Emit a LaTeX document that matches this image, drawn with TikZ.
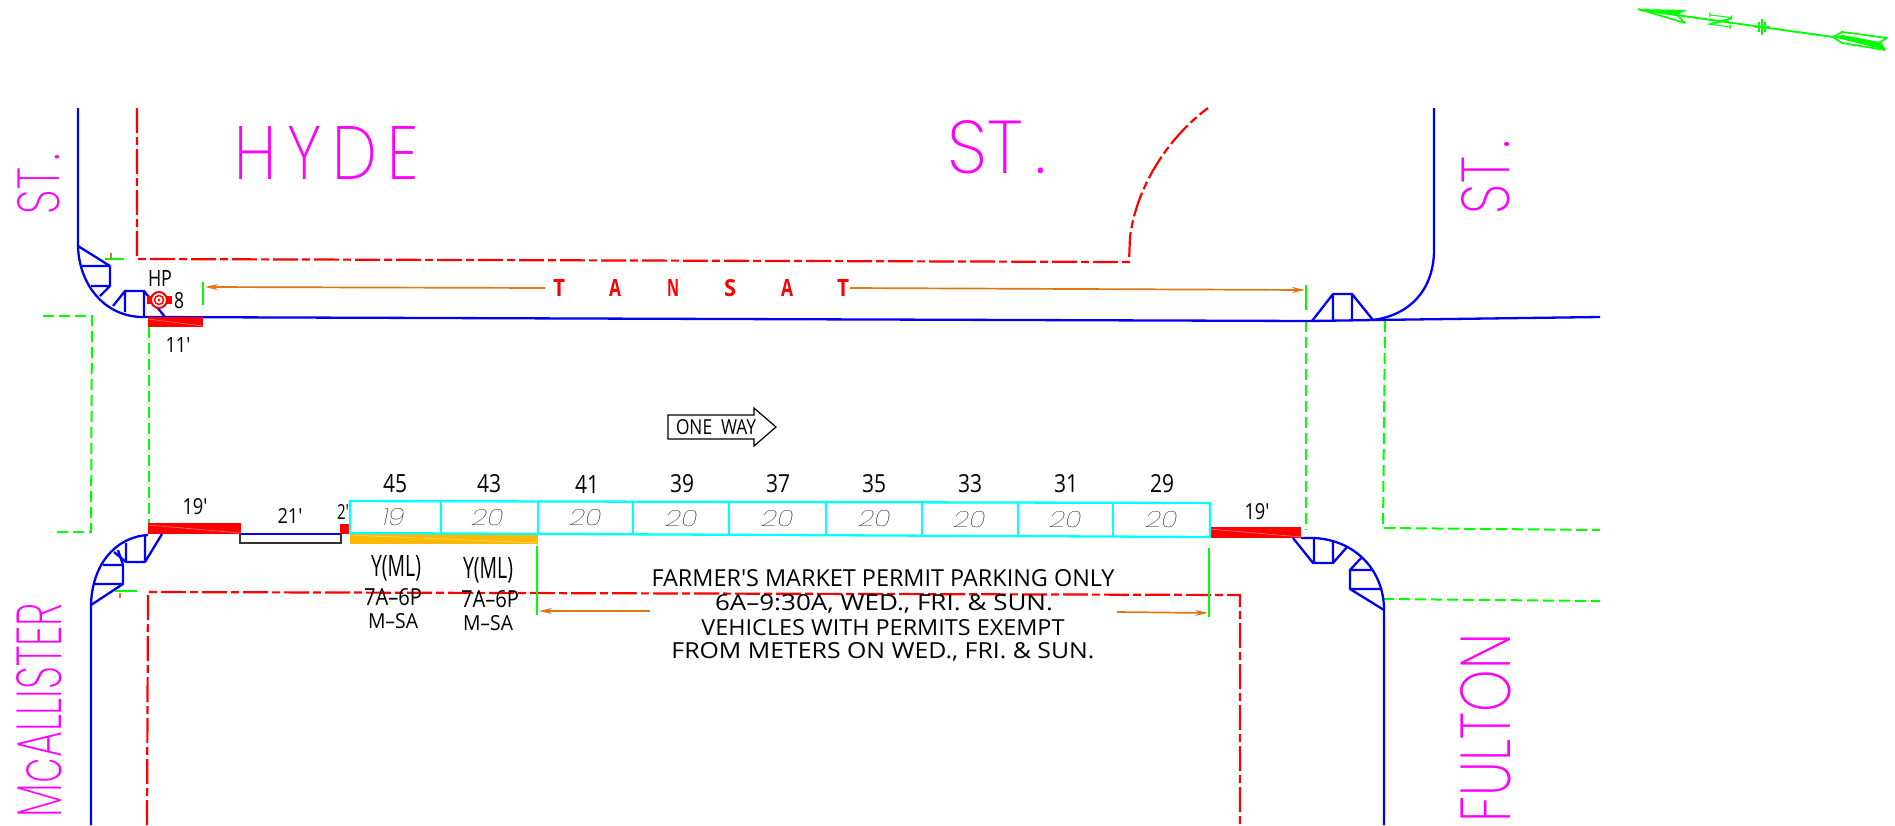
\documentclass[tikz,border=0pt]{standalone}
\usepackage{fontspec}
\setmainfont{Open Sans}
\newfontfamily\cadthin{Poppins Thin}
\newfontfamily\cadxl{Poppins ExtraLight}
\newfontfamily\cad{Open Sans}
\newfontfamily\cadserif{Liberation Serif}
\newcommand{\fit}[3]{\resizebox{#1pt}{#2pt}{#3}}
\definecolor{cadblue}{RGB}{0,0,245}
\definecolor{cadred}{RGB}{255,0,0}
\definecolor{cadgreen}{RGB}{0,255,0}
\definecolor{cadcyan}{RGB}{0,255,255}
\definecolor{cadorange}{RGB}{222,120,20}
\definecolor{cadmag}{RGB}{255,0,255}
\definecolor{cadyellow}{RGB}{255,184,0}
\tikzset{
 curb/.style={draw=cadblue,line width=2.3pt,line join=round},
 prop/.style={draw=cadred,line width=2.2pt,dash pattern=on 25pt off 4pt on 8pt off 4pt},
 gdash/.style={draw=cadgreen,line width=2pt,dash pattern=on 11pt off 5pt},
 gtick/.style={draw=cadgreen,line width=2pt},
 ord/.style={draw=cadorange,line width=1.7pt},
 orgtip/.style={-{Stealth[length=13pt,width=6pt]}},
 redbar/.style={fill=cadred,draw=none},
 cell/.style={draw=cadcyan,line width=2.3pt},
 lab/.style={inner sep=0pt,font=\cad,text=black},
 big/.style={inner sep=0pt,font=\cadxl,text=cadmag},
 stall/.style={inner sep=0pt,font=\cadthin,text=black,xslant=0.2},
 glint/.style={draw=white,opacity=.45,line width=.6pt},
}
\usetikzlibrary{arrows.meta}
\begin{document}
\begin{tikzpicture}[x=1pt,y=-1pt]
\useasboundingbox (0,0) rectangle (1895,825);
\fill[white] (0,0) rectangle (1895,825);

% property lines
\draw[prop] (137,108) -- (137,259) -- (1129,262) -- (1130,237) .. controls (1136,190) and (1165,140) .. (1208,108);
\draw[prop] (147,825) -- (148,592) -- (1240,595) -- (1240,825);

% green dashed
\draw[gdash] (43,316) -- (92,316) -- (91,532) -- (52,532);
\draw[gdash] (149,327) -- (149,523);
\draw[gdash] (1306,321) -- (1306,530);
\draw[gdash] (1385,321) -- (1383,528) -- (1600,530);
\draw[gdash] (1383,599) -- (1600,601);

% green ticks
\draw[gtick] (105,259) -- (124,259);
\draw[gtick] (115,591) -- (137,591);
\draw[gtick] (203,282) -- (203,305);
\draw[gtick] (1306,285) -- (1306,310);
\draw[gtick] (537,546) -- (537,615);
\draw[gtick] (1209,548) -- (1209,617);
\draw[ord] (111,253) -- (111,259);
\draw[ord] (120,593) -- (120,598);

% curbs
\draw[curb] (78,108) -- (78,246) .. controls (79,285) and (105,317) .. (143,317) -- (1310,321) -- (1375,320) -- (1600,317);
\draw[curb] (1434,108) -- (1434,252) .. controls (1433,290) and (1410,315) .. (1373,320);
\draw[curb] (91,825) -- (91,605) .. controls (92,565) and (115,537) .. (148,535);
\draw[curb] (241,534) -- (340,534);
\draw[curb] (1301,538) -- (1314,538) .. controls (1355,540) and (1384,570) .. (1384,610) -- (1384,825);

% ramps
\draw[curb] (78,246) -- (110,266) -- (110,286) -- (100,296) (82,266) -- (110,266) (91,286) -- (110,286);
\draw[curb] (113,306) -- (125,291) -- (144,291) -- (165,317) (125,291) -- (125,312) (144,291) -- (144,317);
\draw[curb] (1312,321) -- (1333,294) -- (1352,294) -- (1373,320) (1333,294) -- (1333,321) (1352,294) -- (1352,321);
\draw[curb] (162,534) -- (145,562) -- (126,562) -- (114,552) (145,536) -- (145,562) (126,543) -- (126,562);
\draw[curb] (118,550) -- (123,565) -- (123,584) -- (91,605) (103,565) -- (123,565) (95,584) -- (123,584);
\draw[curb] (1293,538) -- (1313,563) -- (1333,563) -- (1347,547) (1314,538) -- (1314,563) (1333,541) -- (1333,563);
\draw[curb] (1362,557) -- (1350,570) -- (1350,589) -- (1384,610) (1350,570) -- (1372,570) (1350,589) -- (1380,589);

% red bars and yellow
\fill[redbar] (148,317) rectangle (203,327);
\fill[redbar] (148,523) rectangle (241,534);
\fill[redbar] (340,524) rectangle (349,534);
\fill[redbar] (1209,527) rectangle (1301,538);
\fill[cadyellow] (350,534) rectangle (538,544);
\draw[glint] (148,319) -- (203,326);
\draw[glint] (148,525) -- (241,533);
\draw[glint] (1209,529) -- (1301,537);
\draw[glint] (350,535) -- (538,543);
\draw[black!80,line width=1.2pt] (240,534) -- (240,543) -- (341,543) -- (341,534);

% stalls
\draw[cell] (350,501) -- (1210,503) -- (1210,537) -- (350,533) -- cycle;
\foreach \x/\yt/\yb in {441/501/534,538/501/534,633/502/535,729/502/535,826/502/535,922/502/536,1018/503/536,1113/503/537}
  \draw[cell] (\x,\yt) -- (\x,\yb);

% orange dimension lines
\draw[ord,orgtip] (545,288) -- (205,287);
\draw[ord,orgtip] (850,288) -- (1305,290);
\draw[ord,orgtip] (650,611) -- (539,611);
\draw[ord,orgtip] (1117,612) -- (1208,613);

% one way sign
\draw[black,line width=1.2pt,line join=miter] (668,415) -- (754,415) -- (754,408) -- (776,427) -- (754,446) -- (754,439) -- (668,439) -- cycle;
\node[lab] (oneway) at (716,427) {\fit{80}{15}{ONE\ \ WAY}};

% hydrant
\fill[cadred] (147,296) rectangle (172,304);
\draw[cadred,fill=white,line width=2pt] (159,300) circle (8);
\draw[cadred,line width=1.5pt] (159,300) circle (4.5);
\fill[cadred] (159,300) circle (1.5);

% labels
\node[lab] (hp) at (160,278) {\fit{24}{16}{HP}};
\node[lab] (hn) at (179,301) {\fit{10}{16}{8}};
\node[lab] (d11) at (178,345) {\fit{25}{15}{11'}};
\node[lab] (d19a) at (195,507) {\fit{25}{16}{19'}};
\node[lab] (d21) at (290,516) {\fit{25}{15}{21'}};
\node[lab] (d2) at (343,512) {\fit{12}{15}{2'}};
\node[lab] (d19b) at (1257,512) {\fit{25}{16}{19'}};

\foreach \n/\x/\t in {n45/395/45,n43/489/43,n41/587/41,n39/682/39,n37/778/37,n35/874/35,n33/970/33,n31/1066/31,n29/1162/29}
  \node[lab] (\n) at (\x,484) {\fit{24}{18}{\t}};

\node[stall] (s19) at (394,517) {\fit{22}{17}{19}};
\foreach \n/\x/\y in {s1/488/518,s2/586/518,s3/682/519,s4/778/519,s5/875/519,s6/970/520,s7/1066/520,s8/1162/520}
  \node[stall] (\n) at (\x,\y) {\fit{32}{16}{20}};

\node[lab] (y1) at (396,568) {\fit{50}{21}{Y(ML)}};
\node[lab] (y2) at (488,570) {\fit{50}{21}{Y(ML)}};
\node[lab] (t1) at (393,597) {\fit{58}{17}{7A–6P}};
\node[lab] (t2) at (490,599) {\fit{58}{17}{7A–6P}};
\node[lab] (m1) at (393,621) {\fit{50}{15}{M–SA}};
\node[lab] (m2) at (488,623) {\fit{50}{15}{M–SA}};

\node[lab] (f1) at (883,578) {\fit{463}{17}{FARMER'S MARKET PERMIT PARKING ONLY}};
\node[lab] (f2) at (884,604) {\fit{338}{16}{6A–9:30A, WED., FRI. \& SUN.}};
\node[lab] (f3) at (883,628) {\fit{363}{16}{VEHICLES WITH PERMITS EXEMPT}};
\node[lab] (f4) at (883,652) {\fit{423}{16}{FROM METERS ON WED., FRI. \& SUN.}};

% TANSAT
\foreach \n/\x/\t in {ta/559/T,tb/615/A,tc/673/N,td/730/S,te/787/A,tf/843/T}
  \node[inner sep=0pt,font=\cad\bfseries,text=cadred] (\n) at (\x,288) {\fit{12}{17}{\t}};

% street names
\node[big] (hyde) at (327,152.5) {\fit{184}{53}{H\,Y\,D\,E}};
\node[big] (st1) at (997,147.5) {\fit{98}{53}{ST\,.}};
\node[big,rotate=90] (st2) at (39,184) {\fit{60}{42}{ST\,.}};
\node[big,rotate=90] (st3) at (1486,177) {\fit{74}{48}{ST\,.}};
\node[big,rotate=90] (mc) at (39.5,710) {\fit{214}{45}{McALLISTER}};
\node[big,rotate=90] (fu) at (1486,728) {\fit{188}{50}{FULTON}};

% north arrow
\draw[cadgreen,line width=1.9pt] (1640,10) -- (1833,37);
\fill[cadgreen] (1638,9) -- (1687,10) -- (1677,15) -- cycle;
\draw[cadgreen,line width=1.7pt,line join=round] (1638,9) -- (1685,23) -- (1677,15);
\fill[cadgreen] (1833,37) -- (1885,50) -- (1880,42) -- (1842,35) -- cycle;
\draw[cadgreen,line width=1.7pt,line join=round] (1833,37) -- (1842,32) -- (1887,38) -- (1880,42) -- (1885,50) -- (1842,43) -- cycle;
\draw[cadgreen,line width=2pt] (1762,19) -- (1762,35) (1755,27) -- (1770,27) (1759,22) -- (1759,32) (1765,22) -- (1765,32);
\node[inner sep=0pt,text=cadgreen,rotate=-97,font=\cadserif] (north) at (1720,21) {\fit{15}{23}{N}};
\end{tikzpicture}
\end{document}
